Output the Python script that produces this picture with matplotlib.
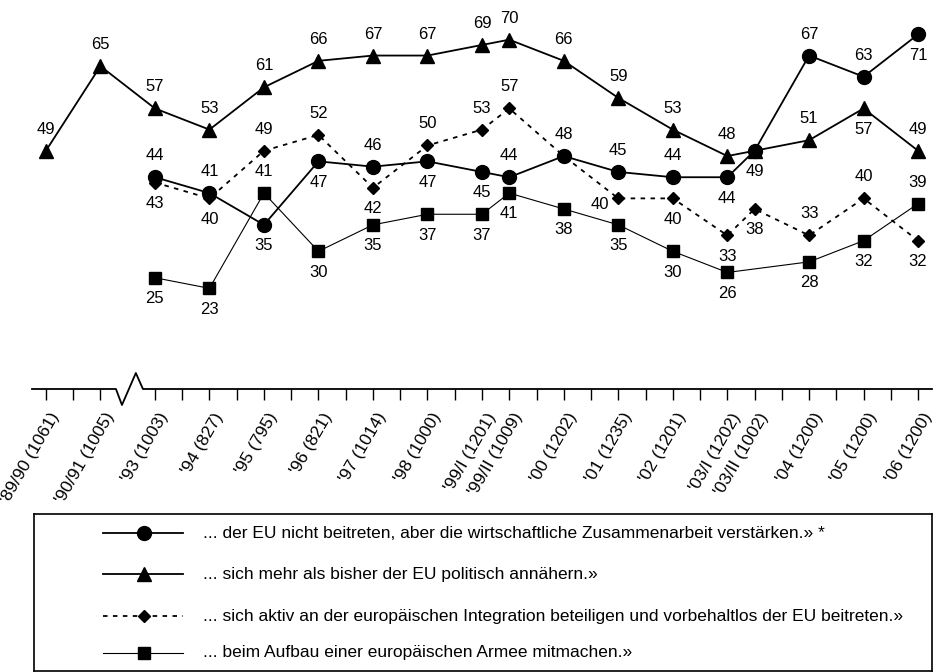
import numpy as np
import matplotlib
matplotlib.use("Agg")
import matplotlib.pyplot as plt
from matplotlib.transforms import ScaledTranslation

plt.rcParams['font.family'] = ['Liberation Sans', 'DejaVu Sans']

# Erhebungen (Jahr, n) und ihre Position auf der Zeitachse (Halbjahres-Raster)
wellen = ["'89/90 (1061)", "'90/91 (1005)", "'93 (1003)", "'94 (827)", "'95 (795)",
          "'96 (821)", "'97 (1014)", "'98 (1000)", "'99/I (1201)", "'99/II (1009)",
          "'00 (1202)", "'01 (1235)", "'02 (1201)", "'03/I (1202)", "'03/II (1002)",
          "'04 (1200)", "'05 (1200)", "'06 (1200)"]
pos = [0, 2, 4, 6, 8, 10, 12, 14, 16, 17, 19, 21, 23, 25, 26, 28, 30, 32]

nan = np.nan
wirtschaft = [nan, nan, 44, 41, 35, 47, 46, 47, 45, 44, 48, 45, 44, 44, 49, 67, 63, 71]
politisch = [49, 65, 57, 53, 61, 66, 67, 67, 69, 70, 66, 59, 53, 48, 49, 51, 57, 49]
beitritt = [nan, nan, 43, 40, 49, 52, 42, 50, 53, 57, 48, 40, 40, 33, 38, 33, 40, 32]
armee = [nan, nan, 25, 23, 41, 30, 35, 37, 37, 41, 38, 35, 30, 26, nan, 28, 32, 39]

labels = [
    "... der EU nicht beitreten, aber die wirtschaftliche Zusammenarbeit verstärken.» *",
    "... sich mehr als bisher der EU politisch annähern.»",
    "... sich aktiv an der europäischen Integration beteiligen und vorbehaltlos der EU beitreten.»",
    "... beim Aufbau einer europäischen Armee mitmachen.»",
]

# wo die Zahl steht: o = oben, u = unten, l = links, n/- = keine
lage_wirtschaft = list("--oouuouuoooouuoou")
lage_politisch = list("oooooooooooooonouo")
lage_beitritt = list("--uuoouooonluuuoou")
lage_armee = list("--uuouuuuuuuuu-uuo")

W, H = 938, 672
fig = plt.figure(figsize=(W / 100, H / 100), dpi=100)
ax = fig.add_axes([32 / W, 1 - 389 / H, 900 / W, 389 / H])
ax.set_xlim(-0.51, 32.51)
ax.set_ylim(3.97, 77.5)
for s in ax.spines.values():
    s.set_visible(False)
ax.set_yticks([])

serien = [
    (politisch, lage_politisch, dict(marker='^', ms=9.5, lw=1.3, ls='-'), 2),
    (beitritt, lage_beitritt, dict(marker='D', ms=6, lw=1.3, ls=(0, (2.5, 3))), 2),
    (armee, lage_armee, dict(marker='s', ms=9, lw=0.8, ls='-'), 3),
    (wirtschaft, lage_wirtschaft, dict(marker='o', ms=10, lw=1.3, ls='-'), 4),
]

for werte, lage, stil, z in serien:
    werte = np.array(werte, dtype=float)
    ok = ~np.isnan(werte)
    x = np.array(pos)[ok]
    ax.plot(x, werte[ok], color='black', mec='black', mfc='black',
            zorder=z, clip_on=False, **stil)
    for xi, v, l in zip(pos, werte, lage):
        if np.isnan(v) or l in '-n':
            continue
        if l == 'o':
            off = (0, 15.5)
        elif l == 'u':
            off = (0, -15)
        else:
            off = (-13, -4.5)
        ax.annotate(f"{v:.0f}", (xi, v), xytext=off, textcoords='offset points',
                    ha='center', va='center', fontsize=12, zorder=5)

# x-Achse mit Unterbrechung zwischen '90/91 und '93
dy = 16 / 389
ax.plot([-0.51, 2.57, 2.79, 3.30, 3.56, 32.51], [0, 0, -dy, dy, 0, 0],
        color='black', lw=1.3, transform=ax.get_xaxis_transform(), clip_on=False)

ax.set_xticks(pos)
ax.set_xticklabels(wellen, rotation=60, ha='right', va='center',
                   rotation_mode='anchor', fontsize=12.5)
ax.set_xticks([i for i in range(33) if i not in pos and i != 3], minor=True)
ax.tick_params(axis='x', which='both', length=8, width=1, direction='out', pad=10)
verschieb = ScaledTranslation(10 / 100, 0, fig.dpi_scale_trans)
for t in ax.get_xticklabels():
    t.set_transform(t.get_transform() + verschieb)

# Legende als Kasten unten
lg = fig.add_axes([34 / W, 1 / H, 898 / W, 157 / H])
lg.set_xlim(0, 898)
lg.set_ylim(157, 0)
lg.set_xticks([])
lg.set_yticks([])
for s in lg.spines.values():
    s.set_linewidth(1.2)
stile = [serien[3][2], serien[0][2], serien[1][2], serien[2][2]]
for i, (text, stil) in enumerate(zip(labels, stile)):
    y = [19, 60, 102, 139][i]
    lg.plot([69, 149], [y, y], color='black', lw=stil['lw'], ls=stil['ls'])
    lg.plot([110], [y], color='black', marker=stil['marker'], ms=stil['ms'], ls='none')
    lg.text(169, y, text, va='center', ha='left', fontsize=12.5)

fig.savefig('out.png', dpi=100)
